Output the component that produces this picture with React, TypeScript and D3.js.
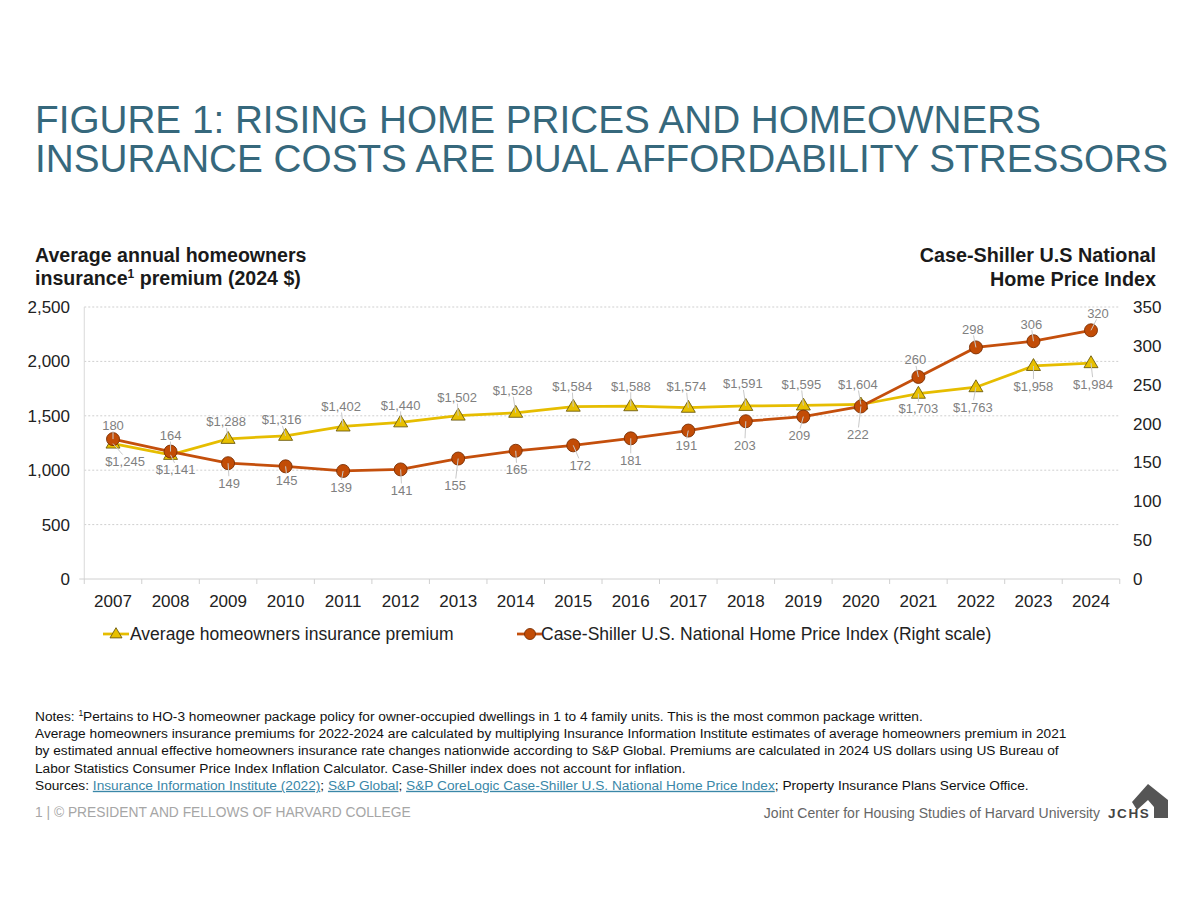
import React from "react";
import * as d3 from "d3";

const years = ["2007","2008","2009","2010","2011","2012","2013","2014","2015","2016","2017","2018","2019","2020","2021","2022","2023","2024"];
const premium = [1245,1141,1288,1316,1402,1440,1502,1528,1584,1588,1574,1591,1595,1604,1703,1763,1958,1984];
const hpi = [180,164,149,145,139,141,155,165,172,181,191,203,209,222,260,298,306,320];
const leftTicks = [0,500,1000,1500,2000,2500];
const rightTicks = [0,50,100,150,200,250,300,350];

// label placement (layout): [dx, dy] from point to label centre
const premiumLabelOffset: [number, number][] = [[12,18],[5,15],[-2,-17],[-4,-16],[-2,-20],[0,-17],[-1,-18],[-3,-22],[-1,-20],[0,-20],[-2,-21],[-3,-22],[-2,-21],[-3,-20],[0,15],[-3,20],[0,20],[2,21]];
const hpiLabelOffset: [number, number][] = [[0,-14],[0,-16],[1,20],[1,14],[-2,16],[1,21],[-3,27],[1,19],[7,20],[0,22],[-2,15],[-1,24],[-4,19],[-3,28],[-3,-17],[-3,-18],[-2,-17],[7,-17]];

const FONT = "'Liberation Sans', Arial, Helvetica, sans-serif";
const PREM_LINE = "#e6bd00";
const PREM_FILL = "#e8c000";
const PREM_STROKE = "#6e5c10";
const HPI_LINE = "#c44f0c";
const HPI_FILL = "#c24c06";
const HPI_STROKE = "#7a3005";

const fmtDollar = (v: number) => "$" + d3.format(",")(v);

function Triangle({ x, y, s = 7 }: { x: number; y: number; s?: number }) {
  const h = s * 1.7;
  return (
    <path
      d={`M${x},${y - h * 0.62} L${x + s},${y + h * 0.38} L${x - s},${y + h * 0.38} Z`}
      fill={PREM_FILL}
      stroke={PREM_STROKE}
      strokeWidth={0.9}
    />
  );
}

export default function App() {
  const left = 84.25, right = 1119.75, top = 307, bottom = 579;
  const x = d3.scaleBand<string>().domain(years).range([left, right]).padding(0);
  const cx = (i: number) => (x(years[i]) as number) + x.bandwidth() / 2;
  const yL = d3.scaleLinear().domain([0, 2500]).range([bottom, top]);
  const yR = d3.scaleLinear().domain([0, 350]).range([bottom, top]);

  const premLine = d3.line<number>().x((_, i) => cx(i)).y((d) => yL(d))(premium) as string;
  const hpiLine = d3.line<number>().x((_, i) => cx(i)).y((d) => yR(d))(hpi) as string;

  const labelColor = "#7f7f7f";
  const leaderColor = "#c9c9c9";

  const renderLabels = (vals: number[], scale: (v: number) => number, offs: [number, number][], fmt: (v: number) => string, key: string) =>
    vals.map((v, i) => {
      const px = cx(i), py = scale(v);
      const [dx, dy] = offs[i];
      const lx = px + dx, ly = py + dy;
      const edge = dy < 0 ? ly + 6 : ly - 7;
      return (
        <g key={key + i}>
          <line x1={lx + dx * -0.2} y1={edge} x2={px} y2={py} stroke={leaderColor} strokeWidth={1} />
          <text x={lx} y={ly} dy="0.35em" textAnchor="middle" fontSize={13} fill={labelColor} fontFamily={FONT}>
            {fmt(v)}
          </text>
        </g>
      );
    });

  const notesY = 721;
  const noteStep = 17.2;
  const linkColor = "#3a87a8";

  return (
    <svg width={1200} height={900} style={{ position: "absolute", left: 0, top: 0, background: "#fff" }} fontFamily={FONT}>
      <rect x={0} y={0} width={1200} height={900} fill="#fff" />
      {/* Title */}
      <text x={35} y={133} fontSize={38.7} fill="#36687c" fontFamily={FONT}>FIGURE 1: RISING HOME PRICES AND HOMEOWNERS</text>
      <text x={35} y={172} fontSize={38.7} fill="#36687c" fontFamily={FONT}>INSURANCE COSTS ARE DUAL AFFORDABILITY STRESSORS</text>

      {/* Axis titles */}
      <text x={35} y={262} fontSize={19.6} fontWeight="bold" fill="#1a1a1a">Average annual homeowners</text>
      <text x={35} y={285} fontSize={19.6} fontWeight="bold" fill="#1a1a1a">
        insurance<tspan fontSize={12} dy={-7}>1</tspan><tspan dy={7}> premium (2024 $)</tspan>
      </text>
      <text x={1156} y={262} fontSize={19.8} fontWeight="bold" fill="#1a1a1a" textAnchor="end">Case-Shiller U.S National</text>
      <text x={1156} y={286} fontSize={19.8} fontWeight="bold" fill="#1a1a1a" textAnchor="end">Home Price Index</text>

      {/* Gridlines */}
      {leftTicks.filter((t) => t > 0).map((t) => (
        <line key={"g" + t} x1={left} x2={right} y1={yL(t)} y2={yL(t)} stroke="#cfcfcf" strokeWidth={1} strokeDasharray="2,2" />
      ))}
      {/* Axes */}
      <line x1={left} x2={left} y1={top} y2={bottom} stroke="#d9d9d9" strokeWidth={1} />
      <line x1={left - 5} x2={right} y1={bottom} y2={bottom} stroke="#d0d0d0" strokeWidth={1} />
      {years.map((yr) => (
        <line key={"t" + yr} x1={x(yr) as number} x2={x(yr) as number} y1={bottom} y2={bottom + 5} stroke="#d0d0d0" />
      ))}
      <line x1={right} x2={right} y1={bottom} y2={bottom + 5} stroke="#d0d0d0" />

      {leftTicks.map((t) => (
        <text key={"l" + t} x={70} y={yL(t)} dy="0.35em" textAnchor="end" fontSize={17} fill="#222">{d3.format(",")(t)}</text>
      ))}
      {rightTicks.map((t) => (
        <text key={"r" + t} x={1133} y={yR(t)} dy="0.35em" textAnchor="start" fontSize={17} fill="#222">{t}</text>
      ))}
      {years.map((yr, i) => (
        <text key={"x" + yr} x={cx(i)} y={601} dy="0.35em" textAnchor="middle" fontSize={17} fill="#222">{yr}</text>
      ))}

      {/* Lines */}
      <path d={premLine} fill="none" stroke={PREM_LINE} strokeWidth={2.75} />
      <path d={hpiLine} fill="none" stroke={HPI_LINE} strokeWidth={2.75} />
      {premium.map((v, i) => <Triangle key={"pt" + i} x={cx(i)} y={yL(v)} />)}
      {hpi.map((v, i) => (
        <circle key={"hc" + i} cx={cx(i)} cy={yR(v)} r={6.5} fill={HPI_FILL} stroke={HPI_STROKE} strokeWidth={0.9} />
      ))}

      {renderLabels(premium, yL, premiumLabelOffset, fmtDollar, "pl")}
      {renderLabels(hpi, yR, hpiLabelOffset, (v) => String(v), "hl")}

      {/* Legend */}
      <line x1={103} x2={129} y1={634} y2={634} stroke={PREM_LINE} strokeWidth={2.75} />
      <Triangle x={116} y={634} s={6} />
      <text x={130} y={634} dy="0.35em" fontSize={17.5} fill="#222">Average homeowners insurance premium</text>
      <line x1={517} x2={543} y1={634} y2={634} stroke={HPI_LINE} strokeWidth={2.75} />
      <circle cx={530} cy={634} r={5.5} fill={HPI_FILL} stroke={HPI_STROKE} strokeWidth={0.9} />
      <text x={541} y={634} dy="0.35em" fontSize={17.5} fill="#222">Case-Shiller U.S. National Home Price Index (Right scale)</text>

      {/* Notes */}
      <g fontSize={13.7} fill="#111">
        <text x={35} y={notesY}>Notes: <tspan fontSize={8.5} dy={-5}>1</tspan><tspan dy={5}>Pertains to HO-3 homeowner package policy for owner-occupied dwellings in 1 to 4 family units. This is the most common package written.</tspan></text>
        <text x={35} y={notesY + noteStep}>Average homeowners insurance premiums for 2022-2024 are calculated by multiplying Insurance Information Institute estimates of average homeowners premium in 2021</text>
        <text x={35} y={notesY + noteStep * 2}>by estimated annual effective homeowners insurance rate changes nationwide according to S&amp;P Global. Premiums are calculated in 2024 US dollars using US Bureau of</text>
        <text x={35} y={notesY + noteStep * 3}>Labor Statistics Consumer Price Index Inflation Calculator. Case-Shiller index does not account for inflation.</text>
        <text x={35} y={notesY + noteStep * 4}>
          Sources: <tspan fill={linkColor} textDecoration="underline">Insurance Information Institute (2022)</tspan>; <tspan fill={linkColor} textDecoration="underline">S&amp;P Global</tspan>; <tspan fill={linkColor} textDecoration="underline">S&amp;P CoreLogic Case-Shiller U.S. National Home Price Index</tspan>; Property Insurance Plans Service Office.
        </text>
      </g>

      {/* Footer */}
      <text x={35} y={817} fontSize={13.8} fill="#a6a6a6">1 | © PRESIDENT AND FELLOWS OF HARVARD COLLEGE</text>
      <text x={1100} y={818} fontSize={14} fill="#666" textAnchor="end">Joint Center for Housing Studies of Harvard University</text>
      <text x={1108} y={818} fontSize={13.5} fontWeight="bold" fill="#444" letterSpacing={1.6}>JCHS</text>
      <path d="M1132,802 L1148,784 L1168,800 L1168,818 L1154,818 L1154,807 L1148,800 L1137,810 Z" fill="#555" />
    </svg>
  );
}
